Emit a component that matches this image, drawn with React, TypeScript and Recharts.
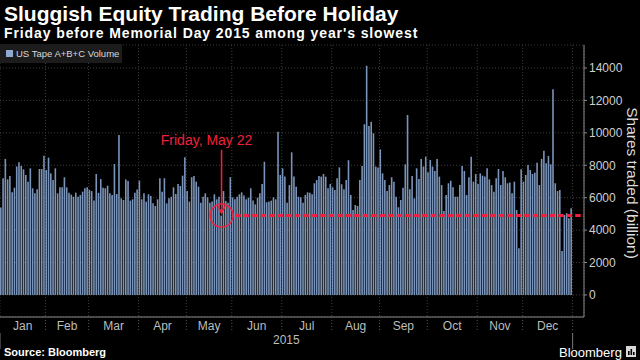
import React from 'react';
import { ComposedChart, Bar, XAxis, YAxis, CartesianGrid, ReferenceLine, ReferenceDot, Legend } from 'recharts';

const title = 'Sluggish Equity Trading Before Holiday';
const subtitle = "Friday before Memorial Day 2015 among year's slowest";
const seriesName = 'US Tape A+B+C Volume';
const yAxisTitle = 'Shares traded (billion)';
const yearLabel = '2015';
const annotationText = 'Friday, May 22';
const sourceText = 'Source: Bloomberg';

const monthNames = ['Jan', 'Feb', 'Mar', 'Apr', 'May', 'Jun', 'Jul', 'Aug', 'Sep', 'Oct', 'Nov', 'Dec'];

// daily volume per trading day, by month
const jan = [5390, 7200, 8390, 7130, 7340, 6330, 6620, 7920, 8180, 7960, 7750, 7400, 6990, 7810, 6580, 6270, 6520, 7770, 7770, 8590];
const feb = [7710, 8470, 7500, 7090, 7810, 6270, 6640, 6640, 7260, 6640, 6310, 6190, 6060, 6310, 6060, 6170, 6370, 6580, 6640];
const mar = [6480, 6410, 5820, 7460, 6300, 7150, 6620, 6580, 6740, 6270, 6170, 8080, 6230, 9870, 5960, 5860, 7130, 7030, 5820, 5900, 6310, 6500];
const apr = [7050, 5900, 6270, 5760, 6210, 6110, 5650, 5490, 5900, 7200, 6370, 7200, 5650, 5960, 6060, 6640, 6230, 6850, 6720, 7360, 8490];
const may = [6410, 5760, 7260, 7340, 6990, 6680, 5690, 6060, 6270, 6020, 5690, 5760, 6210, 5900, 6060, 4900, 6410, 5800, 5690, 7260];
const jun = [6020, 5900, 6060, 6210, 6330, 6130, 5900, 6000, 6580, 5820, 5590, 6000, 6270, 6850, 8220, 5720, 5760, 5820, 6020, 5900, 10070, 7400];
const jul = [7810, 7300, 5690, 6780, 8800, 7300, 6680, 6060, 6020, 5690, 6170, 6330, 6310, 6210, 6890, 7090, 7340, 7300, 7460, 7300, 6580, 6850];
const aug = [6640, 6480, 7200, 7870, 6830, 6520, 7090, 8310, 6170, 5240, 5550, 5490, 7090, 7960, 10530, 14140, 10420, 10690, 9970, 7920, 7870];
const sep = [8980, 7500, 7090, 6410, 6780, 7260, 6990, 6060, 5410, 5860, 6620, 8060, 11100, 6520, 7340, 5960, 7810, 7150, 8390, 7920, 8530];
const oct = [7570, 8330, 7920, 7650, 8390, 7300, 6780, 5180, 6170, 6890, 7050, 6640, 6060, 6060, 6780, 7960, 7650, 6170, 7260, 8530, 6990, 7460];
const nov = [6850, 7500, 7360, 7300, 7810, 7130, 6780, 6370, 7200, 7770, 6780, 7650, 7260, 6890, 6930, 6270, 6990, 5240, 2880, 7750];
const dec = [6990, 7400, 8020, 7710, 7460, 7540, 8160, 6780, 8390, 8900, 8120, 8570, 8060, 12690, 6890, 6410, 6480, 2710, 4930, 5040, 4730, 5350];

const yTicks = [0, 2000, 4000, 6000, 8000, 10000, 12000, 14000];
const yDomain = [-1360, 15420];
const fridayLevel = 4900;
const fridayMonth = 4; // May
const fridayDay = 15; // 16th trading day of May (index)

const monthly = [jan, feb, mar, apr, may, jun, jul, aug, sep, oct, nov, dec];

const starts: number[] = [];
let acc = 0;
monthly.forEach((m) => {
  starts.push(acc);
  acc += m.length;
});
const total = acc;

const data = monthly.flatMap((vals, m) => vals.map((v, d) => ({ month: monthNames[m], day: d + 1, v }))).map((r, i) => ({ ...r, i }));

const boundaries = starts.slice(1).map((s) => s - 0.5).concat([total - 0.5]);
const mids = monthly.map((m, k) => starts[k] - 0.5 + m.length / 2);
const yearMid = total / 2 - 0.5;
const yearTicks = [-0.5, yearMid, total - 0.5];
const xDomain = [-0.5, total + 4.5];
const fridayIdx = starts[fridayMonth] + fridayDay;
const dashStart = fridayIdx + 6;

const RED = '#f2203c';
const BAR = '#7a94ba';
const GRID = '#3c3c3c';
const FONT = '"Liberation Sans", Arial, sans-serif';

const BoundaryTick = (props: any) => {
  const { x, y } = props;
  return <line x1={x} x2={x} y1={y} y2={y + 14} stroke="#555" strokeDasharray="1 2" />;
};

const MonthTick = (props: any) => {
  const { x, y, index } = props;
  return (
    <text x={x} y={y} dy="0.71em" textAnchor="middle" fill="#bdbdbd" fontSize={12} fontFamily={FONT}>
      {monthNames[index]}
    </text>
  );
};

const YearTick = (props: any) => {
  const { x, y, payload } = props;
  if (payload.value === yearMid) {
    return (
      <text x={x} y={y} dy="0.71em" textAnchor="middle" fill="#bdbdbd" fontSize={12} fontFamily={FONT}>
        {yearLabel}
      </text>
    );
  }
  return <line x1={x} x2={x} y1={y - 2} y2={y + 14} stroke="#777" />;
};

const YLabel = (props: any) => {
  const { viewBox } = props;
  const cx = viewBox.x + viewBox.width - 8;
  const cy = viewBox.y + viewBox.height / 2 + 2;
  return (
    <text x={cx} y={cy} transform={`rotate(90 ${cx} ${cy})`} textAnchor="middle" dominantBaseline="central" fill="#dcdcdc" fontSize={15.5} fontFamily={FONT}>
      {yAxisTitle}
    </text>
  );
};

const AnnLabel = (props: any) => {
  const { viewBox } = props;
  return (
    <text x={viewBox.x - 15} y={viewBox.y - 5} textAnchor="middle" fill={RED} fontSize={14} fontFamily={FONT}>
      {annotationText}
    </text>
  );
};

const ArrowHead = (props: any) => {
  const { cx, cy } = props;
  if (cx == null || cy == null) return null;
  return <path d={`M ${cx - 3.5} ${cy - 7} L ${cx} ${cy} L ${cx + 3.5} ${cy - 7}`} stroke={RED} strokeWidth={1.5} fill="none" />;
};

const LegendBox = (props: any) => {
  const name = props.payload && props.payload[0] ? props.payload[0].value : seriesName;
  return (
    <div style={{ background: '#1c1c1c', height: 19, width: 122, display: 'flex', alignItems: 'center', paddingLeft: 6, boxSizing: 'border-box', fontFamily: FONT }}>
      <span style={{ width: 7, height: 7, background: '#8fa9cf', marginRight: 3, display: 'inline-block' }} />
      <span style={{ color: '#d8d8d8', fontSize: 9.5, whiteSpace: 'nowrap' }}>{name}</span>
    </div>
  );
};

export default function App() {
  return (
    <div style={{ position: 'fixed', left: 0, top: 0, width: 640, height: 360, background: '#000', overflow: 'hidden', fontFamily: FONT }}>
      <div style={{ position: 'absolute', left: 4, top: 2, fontSize: 21, fontWeight: 700, color: '#fff', lineHeight: '24px', whiteSpace: 'nowrap' }}>{title}</div>
      <div style={{ position: 'absolute', left: 4, top: 25, fontSize: 14, fontWeight: 700, color: '#fff', lineHeight: '16px', whiteSpace: 'nowrap', letterSpacing: 0.9 }}>{subtitle}</div>
      <div style={{ position: 'absolute', left: 0, top: 0 }}>
        <ComposedChart width={640} height={360} data={data} margin={{ top: 45, right: 0, left: 0, bottom: 10 }}>
          <CartesianGrid stroke={GRID} strokeDasharray="1 2" />
          <XAxis
            dataKey="i"
            type="number"
            domain={xDomain}
            allowDataOverflow
            ticks={boundaries}
            interval={0}
            tick={<BoundaryTick />}
            tickLine={false}
            tickSize={0}
            tickMargin={0}
            axisLine={{ stroke: '#8a8a8a' }}
            height={1}
          />
          <XAxis
            xAxisId="lbl"
            dataKey="i"
            type="number"
            domain={xDomain}
            allowDataOverflow
            ticks={mids}
            interval={0}
            tick={<MonthTick />}
            tickLine={false}
            tickSize={0}
            tickMargin={3}
            axisLine={false}
            height={15}
          />
          <XAxis
            xAxisId="yr"
            dataKey="i"
            type="number"
            domain={xDomain}
            allowDataOverflow
            ticks={yearTicks}
            interval={0}
            tick={<YearTick />}
            tickLine={false}
            tickSize={0}
            tickMargin={2}
            axisLine={false}
            height={17}
          />
          <YAxis
            orientation="right"
            width={56}
            domain={yDomain}
            allowDataOverflow
            ticks={yTicks}
            interval={0}
            tick={{ fill: '#cfcfcf', fontSize: 12, fontFamily: FONT }}
            tickLine={{ stroke: '#8a8a8a' }}
            tickSize={3}
            tickMargin={2}
            axisLine={{ stroke: '#8a8a8a' }}
            label={<YLabel />}
          />
          <Legend
            layout="vertical"
            align="center"
            verticalAlign="middle"
            wrapperStyle={{ top: 44, left: 0, width: 122 }}
            content={<LegendBox />}
          />
          <Bar dataKey="v" name={seriesName} fill={BAR} barSize={1.6} isAnimationActive={false} />
          <ReferenceLine
            segment={[{ x: dashStart, y: fridayLevel }, { x: xDomain[1], y: fridayLevel }]}
            stroke={RED}
            strokeWidth={3}
            strokeDasharray="5.5 3"
          />
          <ReferenceLine segment={[{ x: fridayIdx, y: 8950 }, { x: fridayIdx, y: 5050 }]} stroke={RED} strokeWidth={1.5} />
          <ReferenceDot x={fridayIdx} y={5050} r={0} shape={<ArrowHead />} />
          <ReferenceDot x={fridayIdx} y={fridayLevel} r={11.5} fill="none" stroke={RED} strokeWidth={1.5} />
          <ReferenceDot x={fridayIdx} y={8950} r={0} fill="none" stroke="none" label={<AnnLabel />} />
        </ComposedChart>
      </div>
      <div style={{ position: 'absolute', left: 4, top: 345, fontSize: 11, fontWeight: 700, color: '#fff', lineHeight: '14px', whiteSpace: 'nowrap' }}>{sourceText}</div>
      <div style={{ position: 'absolute', left: 559, top: 344, fontSize: 13, color: '#fff', lineHeight: '17px', whiteSpace: 'nowrap' }}>Bloomberg</div>
      <svg style={{ position: 'absolute', left: 626, top: 346 }} width={10} height={11}>
        <rect x={0} y={0} width={10} height={11} fill="#d8d8d8" />
        <rect x={2} y={5} width={1.6} height={4} fill="#000" />
        <rect x={4.5} y={3} width={1.6} height={6} fill="#000" />
        <rect x={7} y={6} width={1.6} height={3} fill="#000" />
      </svg>
    </div>
  );
}
